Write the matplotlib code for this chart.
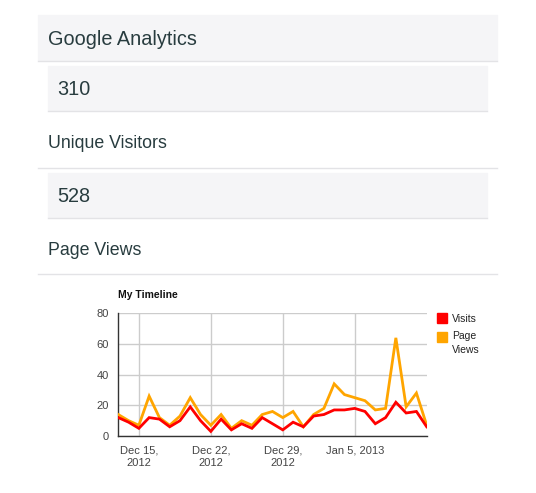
import matplotlib
matplotlib.use('Agg')
import matplotlib.pyplot as plt
from matplotlib.patches import Rectangle
import datetime as dt

plt.rcParams['font.family'] = ['Liberation Sans', 'DejaVu Sans']

W, H = 536, 493

# data (Dec 13, 2012 .. Jan 12, 2013)
start = dt.date(2012, 12, 13)
visits = [12, 9, 5, 12, 11, 6, 10, 19, 10, 3, 11, 4, 8, 5, 12, 8,
          4, 9, 6, 13, 14, 17, 17, 18, 16, 8, 12, 22, 15, 16, 6]
page_views = [14, 10, 7, 26, 12, 7, 13, 25, 14, 7, 14, 5, 10, 7, 14, 16,
              12, 16, 6, 14, 18, 34, 27, 25, 23, 17, 18, 64, 19, 28, 7]
dates = [start + dt.timedelta(days=i) for i in range(len(visits))]

tick_dates = [dt.date(2012, 12, 15), dt.date(2012, 12, 22),
              dt.date(2012, 12, 29), dt.date(2013, 1, 5)]
tick_labels = ['Dec 15,\n2012', 'Dec 22,\n2012', 'Dec 29,\n2012', 'Jan 5, 2013']
y_ticks = [0, 20, 40, 60, 80]

unique_visitors = 310
total_page_views = 528

fig = plt.figure(figsize=(W / 100, H / 100), dpi=100)


def px(x, y):
    return x / W, 1 - y / H


def box(x0, y0, x1, y1, color):
    fx, fy = px(x0, y1)
    fig.patches.append(Rectangle((fx, fy), (x1 - x0) / W, (y1 - y0) / H,
                                 transform=fig.transFigure, color=color, zorder=0))


def hline(x0, x1, y, color='#e3e3e6'):
    fig.add_artist(plt.Line2D([x0 / W, x1 / W], [1 - y / H, 1 - y / H],
                              transform=fig.transFigure, color=color, lw=1))


text_col = '#283c3f'
panel = '#f5f5f7'

# header panel
box(38, 15, 497, 60, panel)
hline(38, 497, 60.5)
fig.text(*px(48, 45), 'Google Analytics', fontsize=14.3, color=text_col, va='baseline')

# visitors box
box(48, 66, 487, 110, panel)
hline(48, 487, 110.5)
fig.text(*px(57, 95), str(unique_visitors), fontsize=14.3, color=text_col, va='baseline')
fig.text(*px(48, 148), 'Unique Visitors', fontsize=12.8, color=text_col, va='baseline')
hline(38, 497, 167.5)

# page views box
box(48, 173, 487, 217, panel)
hline(48, 487, 217.5)
fig.text(*px(57, 202), str(total_page_views), fontsize=14.3, color=text_col, va='baseline')
fig.text(*px(48, 255), 'Page Views', fontsize=12.8, color=text_col, va='baseline')
hline(38, 497, 273.5)

# timeline chart
x0, x1, y0, y1 = 118.3, 426.7, 313.3, 436
ax = fig.add_axes([x0 / W, 1 - y1 / H, (x1 - x0) / W, (y1 - y0) / H])
ax.plot(dates, page_views, color='#ffa500', lw=2, zorder=3, solid_joinstyle='miter')
ax.plot(dates, visits, color='#ff0000', lw=2, zorder=4, solid_joinstyle='miter')
ax.set_xlim(dates[0], dates[-1])
ax.set_ylim(0, 80)
ax.set_yticks(y_ticks)
ax.set_xticks(tick_dates)
ax.set_xticklabels(tick_labels)
ax.grid(True, color='#cccccc', lw=1)
ax.set_axisbelow(True)
for s in ['top', 'right']:
    ax.spines[s].set_visible(False)
for s in ['left', 'bottom']:
    ax.spines[s].set_color('#333333')
    ax.spines[s].set_linewidth(1)
ax.tick_params(length=0, labelsize=8, colors='#444444', pad=7)
for lbl in ax.get_xticklabels():
    lbl.set_linespacing(1.3)

fig.text(*px(118, 298), 'My Timeline', fontsize=7.5, fontweight='bold', color='#111111', va='baseline')

# legend
box(437, 313, 447, 323, '#ff0000')
fig.text(*px(452, 322), 'Visits', fontsize=7.5, color='#222222', va='baseline')
box(437, 332, 447, 342, '#ffa500')
fig.text(*px(452, 339), 'Page', fontsize=7.5, color='#222222', va='baseline')
fig.text(*px(452, 353), 'Views', fontsize=7.5, color='#222222', va='baseline')

fig.savefig('out.png', dpi=100)
